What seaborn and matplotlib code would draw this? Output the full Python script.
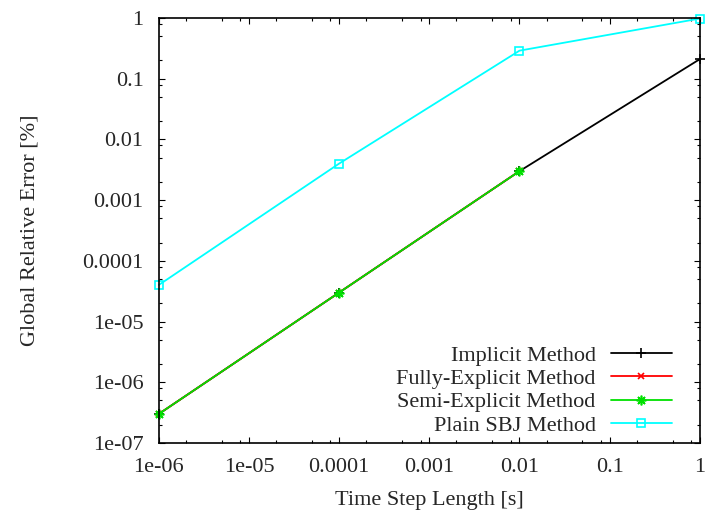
import matplotlib
matplotlib.use("Agg")
import matplotlib.pyplot as plt
import matplotlib.ticker as mticker
import seaborn as sns
import pandas as pd

# Time step lengths [s]
step_implicit = [1e-6, 1e-4, 1e-2, 1.0]
step_explicit = [1e-6, 1e-4, 1e-2]
step_sbj = [1e-6, 1e-4, 1e-2, 1.0]

# Global relative error [%]
err_implicit = [3e-7, 3e-5, 3e-3, 0.21]
err_fully_explicit = [3e-7, 3e-5, 3e-3]
err_semi_explicit = [3e-7, 3e-5, 3e-3]
err_plain_sbj = [4e-5, 4e-3, 0.29, 0.98]

series_names = ["Implicit Method", "Fully-Explicit Method",
                "Semi-Explicit Method", "Plain SBJ Method"]

x_ticks = [1e-6, 1e-5, 1e-4, 1e-3, 1e-2, 1e-1, 1.0]
x_tick_labels = ["1e-06", "1e-05", "0.0001", "0.001", "0.01", "0.1", "1"]
y_ticks = [1e-7, 1e-6, 1e-5, 1e-4, 1e-3, 1e-2, 1e-1, 1.0]
y_tick_labels = ["1e-07", "1e-06", "1e-05", "0.0001", "0.001", "0.01", "0.1", "1"]

sns.set_style("ticks")
plt.rcParams["font.family"] = ["Liberation Serif", "DejaVu Serif"]
plt.rcParams["font.size"] = 16

fig = plt.figure(figsize=(7.09, 5.15), dpi=100)
ax = fig.add_axes([0.224, 0.140, 0.763, 0.825])

styles = [
    (step_implicit, err_implicit, "#000000", "+", 7),
    (step_explicit, err_fully_explicit, "#ff0000", "x", 5),
    (step_explicit, err_semi_explicit, "#00e000", (8, 2, 0), 7),
    (step_sbj, err_plain_sbj, "#00ffff", "s", 5.5),
]
for (xs, ys, color, marker, ms), name in zip(styles, series_names):
    df = pd.DataFrame({"step": xs, "error": ys})
    sns.lineplot(data=df, x="step", y="error", ax=ax, color=color, label=name,
                 marker=marker, markersize=ms, markeredgecolor=color,
                 markerfacecolor="none", markeredgewidth=1.2, linewidth=1.3,
                 clip_on=False)

ax.set_xscale("log")
ax.set_yscale("log")
ax.set_xlim(1e-6, 1.0)
ax.set_ylim(1e-7, 1.0)

# Major ticks every decade, minor ticks at 2, 5 and 8 within each decade
ax.xaxis.set_major_locator(mticker.FixedLocator(x_ticks))
ax.xaxis.set_major_formatter(mticker.FixedFormatter(x_tick_labels))
ax.yaxis.set_major_locator(mticker.FixedLocator(y_ticks))
ax.yaxis.set_major_formatter(mticker.FixedFormatter(y_tick_labels))
ax.xaxis.set_minor_locator(mticker.LogLocator(base=10, subs=(2.0, 5.0, 8.0), numticks=20))
ax.yaxis.set_minor_locator(mticker.LogLocator(base=10, subs=(2.0, 5.0, 8.0), numticks=20))
ax.xaxis.set_minor_formatter(mticker.NullFormatter())
ax.yaxis.set_minor_formatter(mticker.NullFormatter())

ax.tick_params(which="both", direction="in", top=True, right=True,
               color="black", width=0.8)
ax.tick_params(which="major", length=4.3, pad=11)
ax.tick_params(which="minor", length=2.2)
for sp in ax.spines.values():
    sp.set_visible(True)
    sp.set_color("black")
    sp.set_linewidth(1.2)

ax.set_xlabel("Time Step Length [s]", labelpad=10)
ax.set_ylabel("Global Relative Error [%]", labelpad=31)

ax.legend(loc="lower right", frameon=False, markerfirst=False,
          handlelength=2.75, handletextpad=0.68, labelspacing=0.12,
          borderaxespad=0.0, bbox_to_anchor=(0.965, -0.004))

fig.savefig("out.png", dpi=100)
